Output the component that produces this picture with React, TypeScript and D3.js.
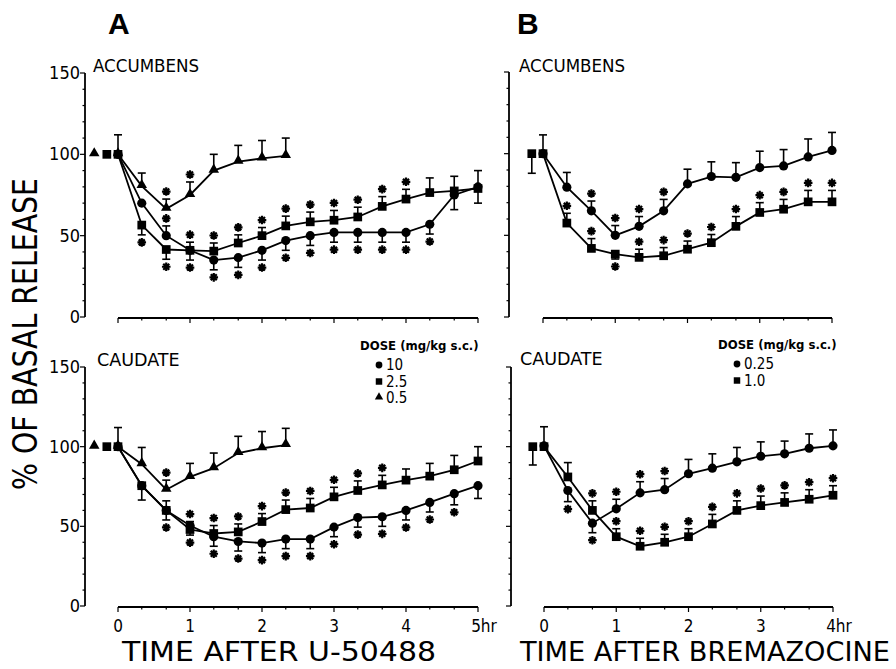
import * as d3 from "d3";

// Microdialysis time course, % of basal release, two drugs x two brain regions.
const W = 896;
const H = 669;
const FONT = "'Liberation Sans Narrow','DejaVu Sans Condensed','Liberation Sans',Arial,sans-serif";

// sample times (hr), one every 20 min
const timesA = [0, 0.33, 0.67, 1, 1.33, 1.67, 2, 2.33, 2.67, 3, 3.33, 3.67, 4, 4.33, 4.67, 5];
const timesA05 = [0, 0.33, 0.67, 1, 1.33, 1.67, 2, 2.33];
const timesB = [0, 0.33, 0.67, 1, 1.33, 1.67, 2, 2.33, 2.67, 3, 3.33, 3.67, 4];

// A / accumbens (U-50488). err > 0 means the bar is drawn upward, < 0 downward.
const accA10 = [100, 70, 50, 41, 35, 36.5, 41, 47, 50, 52, 52, 52, 52, 57, 75, 80];
const accA10Err = [12, 0, 6, -6, -6, -6, -6, -6, -6, -6, -6, -6, -6, -6, -9, 10];
const accA10Sig = [0, 0, 1, 1, 1, 1, 1, 1, 1, 1, 1, 1, 1, 1, 0, 0];
const accA25 = [100, 56.5, 41.5, 41, 40.5, 45.5, 50, 56, 58.5, 59.5, 61.5, 68, 72.5, 76.5, 77.5, 79];
const accA25Err = [0, -6, -6, 5, 5, 5, 5, 6, 6, 6, 6, 6, 6, 9, 9, -9];
const accA25Sig = [0, 1, 1, 1, 1, 1, 1, 1, 1, 1, 1, 1, 1, 0, 0, 0];
const accA05 = [100, 80.5, 66.5, 75, 90, 95.5, 97.5, 99];
const accA05Err = [0, 8, 6, 8, 10, 10, 11, 11];
const accA05Sig = [0, 0, 1, 1, 0, 0, 0, 0];

// A / caudate
const caudA10 = [100, 75.5, 60, 50.5, 43.5, 40.5, 39.5, 42, 42, 49.5, 55.5, 56, 60, 65, 70.5, 75.5];
const caudA10Err = [12, 0, -6, -6, -6, -6, -6, -6, -6, -6, -6, -6, -6, -6, -7, -8];
const caudA10Sig = [0, 0, 1, 1, 1, 1, 1, 1, 1, 1, 1, 1, 1, 1, 1, 0];
const caudA25 = [100, 75.5, 60, 48, 45.5, 46.5, 53, 60.5, 61.5, 68.5, 72.5, 76, 79, 81.5, 85.5, 91];
const caudA25Err = [0, -9, 6, 5, 5, 5, 5, 6, 6, 6, 6, 6, 7, 8, 9, 9];
const caudA25Sig = [0, 0, 0, 1, 1, 1, 1, 1, 1, 1, 1, 1, 0, 0, 0, 0];
const caudA05 = [100, 89, 73, 81, 86.5, 96, 99, 101];
const caudA05Err = [0, 10.5, 6, 8.5, 9.5, 10.5, 10.5, 10.5];
const caudA05Sig = [0, 0, 1, 0, 0, 0, 0, 0];

// B / accumbens (bremazocine)
const accB025 = [100, 79.5, 65, 50, 55.5, 65, 81.5, 86, 85.5, 91.5, 92.5, 98, 102];
const accB025Err = [11.5, 9, 6, 6, 6, 7, 9, 9, 9, 10, 10, 11, 11];
const accB025Sig = [0, 0, 1, 1, 1, 1, 0, 0, 0, 0, 0, 0, 0];
const accB10 = [100, 57.5, 42, 38.5, 36.5, 37.5, 41.5, 45.5, 55.5, 64, 66, 70.5, 70.5];
const accB10Err = [0, 6, 6, -3, 5, 5, 5, 5, 6, 6, 6, 7, 7];
const accB10Sig = [0, 1, 1, 1, 1, 1, 1, 1, 1, 1, 1, 1, 1];

// B / caudate
const caudB025 = [100.5, 72.5, 52, 61, 71, 73, 83, 86.5, 90.5, 94, 95.5, 99, 100.5];
const caudB025Err = [12, -7, -6, 6, 7, 7, 9, 9, 9, 9, 8, 9, 10];
const caudB025Sig = [0, 1, 1, 1, 1, 1, 0, 0, 0, 0, 0, 0, 0];
const caudB10 = [100, 81, 60, 43.5, 37.5, 40, 43.5, 51.5, 60, 63, 65, 67, 69.5];
const caudB10Err = [0, 9, 6, 5, 5, 5, 5, 6, 6, 6, 6, 6, 6];
const caudB10Sig = [0, 0, 1, 1, 1, 1, 1, 1, 1, 1, 1, 1, 1];

// baseline markers drawn left of t=0 (time offset, value, err)
const preA = [
  { shape: "triangle", t: -0.33, v: 100, err: 0 },
  { shape: "square", t: -0.155, v: 100, err: 0 },
];
const preBacc = [{ shape: "square", t: -0.155, v: 100, err: -12 }];
const preBcaud = [{ shape: "square", t: -0.155, v: 100, err: -11.5 }];

const xTicksA = [0, 1, 2, 3, 4, 5];
const xTickLabelsA = ["0", "1", "2", "3", "4", "5hr"];
const xTicksB = [0, 1, 2, 3, 4];
const xTickLabelsB = ["0", "1", "2", "3", "4hr"];
const yTicks = [0, 50, 100, 150];
const yTickLabels = ["0", "50", "100", "150"];

const dosesA = ["10", "2.5", "0.5"];
const dosesB = ["0.25", "1.0"];

type Shape = "circle" | "square" | "triangle";
type Series = { shape: Shape; t: number[]; v: number[]; err: number[]; sig: number[] };

const symbolOf = (s: Shape) =>
  s === "circle" ? d3.symbolCircle : s === "square" ? d3.symbolSquare : d3.symbolTriangle;
const bigSize = { circle: 66, square: 76, triangle: 48 };
const smallSize = { circle: 36, square: 42, triangle: 30 };

const STAR = "M-4.3,0L4.3,0M0,-4.3L0,4.3M-3,-3L3,3M-3,3L3,-3";

const panels = [
  {
    key: "a-acc",
    title: "ACCUMBENS",
    titleX: 93,
    titleY: 72,
    axisX: 85,
    xDomain: [0, 5],
    xRange: [118, 478],
    yRange: [317, 73],
    minor: timesA,
    showY: true,
    xLabels: null,
    pre: preA,
    series: [
      { shape: "triangle", t: timesA05, v: accA05, err: accA05Err, sig: accA05Sig },
      { shape: "square", t: timesA, v: accA25, err: accA25Err, sig: accA25Sig },
      { shape: "circle", t: timesA, v: accA10, err: accA10Err, sig: accA10Sig },
    ] as Series[],
  },
  {
    key: "a-caud",
    title: "CAUDATE",
    titleX: 97,
    titleY: 366,
    axisX: 85,
    xDomain: [0, 5],
    xRange: [118, 478],
    yRange: [606, 367],
    minor: timesA,
    showY: true,
    xLabels: { ticks: xTicksA, labels: xTickLabelsA },
    pre: preA,
    legend: { x: 360, y: 350, doses: dosesA, shapes: ["circle", "square", "triangle"] as Shape[] },
    series: [
      { shape: "triangle", t: timesA05, v: caudA05, err: caudA05Err, sig: caudA05Sig },
      { shape: "square", t: timesA, v: caudA25, err: caudA25Err, sig: caudA25Sig },
      { shape: "circle", t: timesA, v: caudA10, err: caudA10Err, sig: caudA10Sig },
    ] as Series[],
  },
  {
    key: "b-acc",
    title: "ACCUMBENS",
    titleX: 519,
    titleY: 72,
    axisX: 509,
    xDomain: [0, 4],
    xRange: [543, 832],
    yRange: [317, 72],
    minor: timesB,
    showY: false,
    xLabels: null,
    pre: preBacc,
    series: [
      { shape: "square", t: timesB, v: accB10, err: accB10Err, sig: accB10Sig },
      { shape: "circle", t: timesB, v: accB025, err: accB025Err, sig: accB025Sig },
    ] as Series[],
  },
  {
    key: "b-caud",
    title: "CAUDATE",
    titleX: 520,
    titleY: 365,
    axisX: 511,
    xDomain: [0, 4],
    xRange: [544, 833],
    yRange: [606, 367],
    minor: timesB,
    showY: false,
    xLabels: { ticks: xTicksB, labels: xTickLabelsB },
    pre: preBcaud,
    legend: { x: 718, y: 349, doses: dosesB, shapes: ["circle", "square"] as Shape[] },
    series: [
      { shape: "square", t: timesB, v: caudB10, err: caudB10Err, sig: caudB10Sig },
      { shape: "circle", t: timesB, v: caudB025, err: caudB025Err, sig: caudB025Sig },
    ] as Series[],
  },
];

function Marker({ shape, x, y, small }: { shape: Shape; x: number; y: number; small?: boolean }) {
  const size = (small ? smallSize : bigSize)[shape];
  const d = d3.symbol().type(symbolOf(shape)).size(size)() as string;
  const dy = shape === "triangle" ? -1 : 0;
  return <path d={d} transform={`translate(${x},${y + dy})`} fill="#000" />;
}

function ErrorBar({ x, y0, y1, up, sig }: { x: number; y0: number; y1: number; up: boolean; sig: boolean }) {
  return (
    <g stroke="#000" strokeWidth={1.6}>
      <line x1={x} x2={x} y1={y0} y2={y1} />
      <line x1={x - 4} x2={x + 4} y1={y1} y2={y1} />
      {sig && <path d={STAR} transform={`translate(${x},${y1 + (up ? -7.5 : 7.5)})`} strokeWidth={2.2} />}
    </g>
  );
}

function Panel({ p }: { p: (typeof panels)[number] }) {
  const x = d3.scaleLinear().domain(p.xDomain).range(p.xRange);
  const y = d3.scaleLinear().domain([0, 150]).range(p.yRange);
  const line = d3
    .line<[number, number]>()
    .x((d) => x(d[0]))
    .y((d) => y(d[1]));
  const yMinor = d3.range(0, 151, 10);
  const xAxisY = y(0) + 1;
  const nX = p.xLabels ? p.xLabels.ticks.length : 0;

  return (
    <g>
      {/* y axis */}
      <line x1={p.axisX} x2={p.axisX} y1={y(0)} y2={y(150)} stroke="#000" strokeWidth={1.8} />
      {yMinor.map((v) => (
        <line
          key={v}
          x1={p.axisX}
          x2={p.axisX - (v % 50 === 0 ? 5 : 2.5)}
          y1={y(v)}
          y2={y(v)}
          stroke="#000"
          strokeWidth={1.2}
        />
      ))}
      {p.showY &&
        yTicks.map((v, i) => (
          <text key={v} x={p.axisX - 5} y={y(v) + 6} textAnchor="end" fontSize={18} fontFamily={FONT}>
            {yTickLabels[i]}
          </text>
        ))}

      {/* x axis */}
      <line x1={x(p.xDomain[0])} x2={x(p.xDomain[1])} y1={xAxisY} y2={xAxisY} stroke="#000" strokeWidth={1.8} />
      {p.minor.map((t) => (
        <line
          key={t}
          x1={x(t)}
          x2={x(t)}
          y1={xAxisY}
          y2={xAxisY + (Math.abs(t - Math.round(t)) < 0.01 ? 5 : 2.5)}
          stroke="#000"
          strokeWidth={1.2}
        />
      ))}
      {p.xLabels &&
        p.xLabels.ticks.map((t, i) => (
          <text
            key={t}
            x={x(t)}
            y={632}
            textAnchor="middle"
            fontSize={17}
            fontFamily={FONT}
            dx={i === nX - 1 ? 6 : 0}
          >
            {p.xLabels!.labels[i]}
          </text>
        ))}

      <text x={p.titleX} y={p.titleY} fontSize={18} fontFamily={FONT} textLength={p.title.length * 11.8} lengthAdjust="spacingAndGlyphs">
        {p.title}
      </text>

      {/* series lines */}
      {p.series.map((s, k) => (
        <path
          key={k}
          d={line(s.t.map((t, i) => [t, s.v[i]] as [number, number])) as string}
          fill="none"
          stroke="#000"
          strokeWidth={1.8}
        />
      ))}
      {/* error bars + significance stars */}
      {p.series.map((s, k) =>
        s.t.map((t, i) =>
          s.err[i] !== 0 ? (
            <ErrorBar
              key={`${k}-${i}`}
              x={x(t)}
              y0={y(s.v[i])}
              y1={y(s.v[i] + s.err[i])}
              up={s.err[i] > 0}
              sig={!!s.sig[i]}
            />
          ) : null,
        ),
      )}
      {p.pre.map((m, i) =>
        m.err !== 0 ? (
          <ErrorBar key={`pe${i}`} x={x(m.t)} y0={y(m.v)} y1={y(m.v + m.err)} up={m.err > 0} sig={false} />
        ) : null,
      )}
      {/* markers */}
      {p.series.map((s, k) =>
        s.t.map((t, i) => <Marker key={`${k}-${i}`} shape={s.shape} x={x(t)} y={y(s.v[i])} />),
      )}
      {p.pre.map((m, i) => (
        <Marker key={`p${i}`} shape={m.shape as Shape} x={x(m.t)} y={y(m.v)} />
      ))}

      {p.legend && (
        <g fontFamily={FONT}>
          <text x={p.legend.x} y={p.legend.y} fontSize={13} fontWeight="bold">
            DOSE (mg/kg s.c.)
          </text>
          {p.legend.doses.map((d, i) => (
            <g key={d}>
              <Marker shape={p.legend!.shapes[i]} x={p.legend!.x + 19} y={p.legend!.y + 15 + i * 16.5} small />
              <text x={p.legend!.x + 26} y={p.legend!.y + 20 + i * 16.5} fontSize={15}>
                {d}
              </text>
            </g>
          ))}
        </g>
      )}
    </g>
  );
}

export default function App() {
  return (
    <svg
      width={W}
      height={H}
      viewBox={`0 0 ${W} ${H}`}
      style={{ position: "absolute", left: 0, top: 0, background: "#fff" }}
    >
      <rect width={W} height={H} fill="#fff" />
      <text x={108} y={34} fontSize={30} fontWeight="bold" fontFamily="'Liberation Sans',Arial,sans-serif">
        A
      </text>
      <text x={517} y={34} fontSize={30} fontWeight="bold" fontFamily="'Liberation Sans',Arial,sans-serif">
        B
      </text>
      {panels.map((p) => (
        <Panel key={p.key} p={p} />
      ))}
      <text
        transform="translate(37,490) rotate(-90)"
        fontSize={34}
        fontFamily={FONT}
        fontWeight={300}
        textLength={312}
        lengthAdjust="spacingAndGlyphs"
      >
        % OF BASAL RELEASE
      </text>
      <text x={122} y={661} fontSize={26} fontFamily={FONT} fontWeight={300} textLength={314} lengthAdjust="spacingAndGlyphs">
        TIME AFTER U-50488
      </text>
      <text x={520} y={661} fontSize={26} fontFamily={FONT} fontWeight={300} textLength={370} lengthAdjust="spacingAndGlyphs">
        TIME AFTER BREMAZOCINE
      </text>
    </svg>
  );
}
